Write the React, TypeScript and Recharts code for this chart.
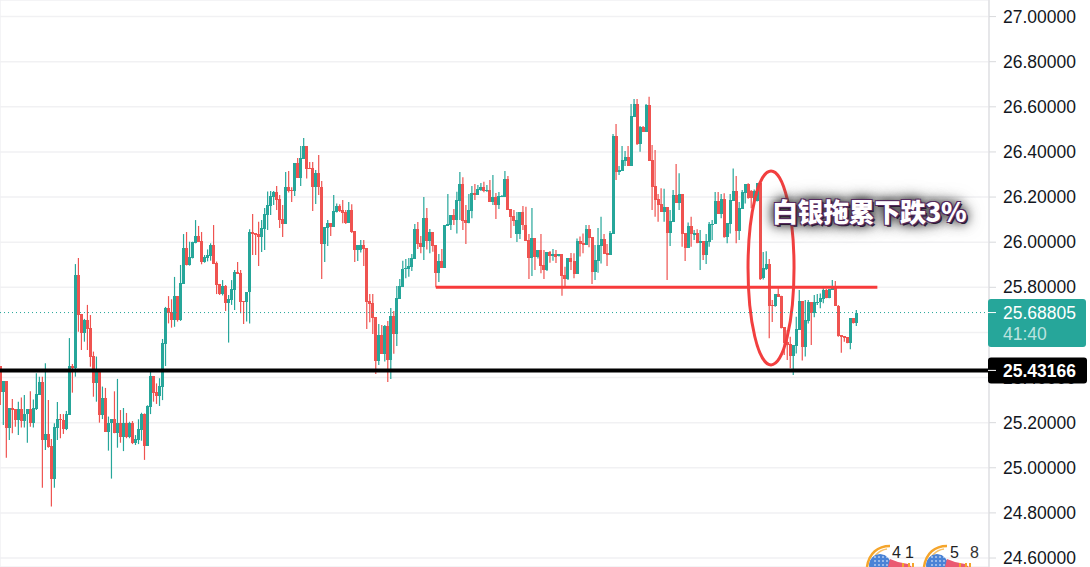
import React from 'react';
import { Bar, CartesianGrid, ComposedChart, ReferenceDot, ReferenceLine, XAxis, YAxis } from 'recharts';

const opens = [
  25.451, 25.337, 25.385, 25.178, 25.264, 25.259, 25.212, 25.259, 25.207, 25.237, 25.259, 25.199, 25.261, 25.323, 25.380, 25.123, 25.150, 25.097, 24.950, 25.175,
  25.216, 25.212, 25.172, 25.234, 25.451, 25.441, 25.855, 25.682, 25.597, 25.655, 25.620, 25.496, 25.377, 25.426, 25.234, 25.309, 25.159, 25.199, 25.216, 25.154,
  25.199, 25.136, 25.199, 25.136, 25.199, 25.110, 25.123, 25.167, 25.238, 25.097, 25.269, 25.407, 25.336, 25.318, 25.358, 25.549, 25.708, 25.691, 25.655, 25.761,
  25.655, 25.815, 25.974, 25.899, 25.930, 25.996, 26.027, 26.005, 25.912, 25.930, 25.939, 25.987, 25.908, 25.815, 25.770, 25.806, 25.730, 25.744, 25.788, 25.868,
  25.863, 25.739, 25.735, 25.779, 26.045, 26.041, 26.036, 26.023, 26.059, 26.121, 26.160, 26.200, 26.222, 26.191, 26.103, 26.081, 26.245, 26.231, 26.227, 26.351,
  26.285, 26.369, 26.426, 26.329, 26.329, 26.245, 26.307, 26.245, 25.992, 26.063, 26.085, 26.067, 26.134, 26.160, 26.141, 26.134, 26.085, 26.143, 26.050, 25.965,
  25.965, 25.988, 25.974, 25.739, 25.730, 25.668, 25.473, 25.589, 25.505, 25.629, 25.478, 25.673, 25.593, 25.748, 25.801, 25.880, 25.881, 25.890, 25.926, 26.059,
  25.996, 25.979, 26.107, 26.005, 26.045, 25.988, 25.863, 25.917, 25.886, 26.072, 26.076, 26.121, 26.098, 26.183, 26.258, 26.098, 26.085, 26.138, 26.218, 26.209,
  26.231, 26.245, 26.225, 26.231, 26.178, 26.200, 26.165, 26.200, 26.200, 26.280, 26.147, 26.116, 26.036, 26.036, 26.134, 26.076, 26.010, 25.931, 26.019, 25.934,
  25.965, 25.899, 25.877, 25.956, 25.939, 25.948, 25.939, 25.948, 25.855, 25.837, 25.930, 25.917, 25.859, 26.005, 25.996, 25.988, 26.058, 26.023, 25.868, 25.917,
  25.983, 26.014, 25.952, 25.943, 26.036, 26.471, 26.311, 26.316, 26.360, 26.378, 26.338, 26.555, 26.613, 26.435, 26.511, 26.488, 26.608, 26.364, 26.249, 26.191,
  26.169, 26.134, 26.156, 26.041, 26.090, 26.209, 26.174, 26.214, 26.041, 25.974, 26.072, 26.032, 26.041, 25.996, 26.005, 25.943, 26.001, 26.076, 26.081, 26.183,
  26.125, 26.191, 26.023, 26.081, 26.183, 26.227, 26.050, 26.147, 26.218, 26.258, 26.227, 26.183, 26.183, 26.262, 25.841, 25.881, 25.903, 25.722, 25.717, 25.770,
  25.762, 25.624, 25.556, 25.549, 25.496, 25.540, 25.611, 25.739, 25.535, 25.651, 25.735, 25.686, 25.729, 25.733, 25.748, 25.788, 25.753, 25.788, 25.797, 25.717,
  25.589, 25.584, 25.578, 25.553, 25.664, 25.640,
];

const highs = [
  25.451, 25.385, 25.385, 25.264, 25.305, 25.259, 25.293, 25.311, 25.323, 25.259, 25.339, 25.303, 25.419, 25.404, 25.404, 25.463, 25.300, 25.128, 25.197, 25.292,
  25.238, 25.238, 25.252, 25.575, 25.460, 25.903, 25.930, 25.682, 25.660, 25.722, 25.677, 25.515, 25.493, 25.426, 25.360, 25.354, 25.227, 25.216, 25.339, 25.394,
  25.256, 25.265, 25.243, 25.204, 25.207, 25.145, 25.215, 25.244, 25.241, 25.277, 25.426, 25.407, 25.374, 25.397, 25.571, 25.713, 25.761, 25.747, 25.846, 25.761,
  25.899, 26.036, 26.045, 26.002, 26.002, 26.098, 26.072, 26.045, 25.943, 25.968, 25.995, 26.076, 25.914, 25.815, 25.832, 25.810, 25.766, 25.832, 25.877, 25.912,
  25.877, 25.739, 25.779, 26.057, 26.125, 26.041, 26.091, 26.098, 26.152, 26.225, 26.227, 26.227, 26.249, 26.209, 26.165, 26.311, 26.316, 26.243, 26.351, 26.373,
  26.426, 26.462, 26.426, 26.355, 26.355, 26.320, 26.386, 26.271, 26.067, 26.098, 26.085, 26.209, 26.172, 26.168, 26.187, 26.143, 26.178, 26.168, 26.050, 25.988,
  26.010, 26.010, 25.974, 25.770, 25.770, 25.668, 25.637, 25.633, 25.633, 25.651, 25.708, 25.695, 25.806, 25.837, 25.918, 25.926, 25.930, 25.948, 26.081, 26.090,
  26.027, 26.200, 26.152, 26.058, 26.045, 25.988, 25.948, 25.970, 26.076, 26.214, 26.121, 26.147, 26.224, 26.311, 26.288, 26.165, 26.214, 26.249, 26.258, 26.254,
  26.262, 26.268, 26.254, 26.276, 26.298, 26.218, 26.222, 26.209, 26.316, 26.293, 26.147, 26.143, 26.134, 26.134, 26.160, 26.157, 26.036, 26.152, 26.019, 25.965,
  26.036, 25.965, 25.956, 25.961, 25.970, 25.965, 25.948, 25.948, 25.891, 25.930, 25.952, 25.951, 26.016, 26.025, 26.039, 26.076, 26.076, 26.023, 25.988, 26.063,
  26.113, 26.036, 25.992, 26.050, 26.480, 26.524, 26.338, 26.426, 26.404, 26.426, 26.613, 26.635, 26.635, 26.515, 26.515, 26.613, 26.645, 26.431, 26.409, 26.214,
  26.239, 26.237, 26.156, 26.143, 26.231, 26.347, 26.305, 26.214, 26.041, 26.087, 26.113, 26.054, 26.057, 26.054, 26.005, 26.036, 26.090, 26.098, 26.222, 26.222,
  26.214, 26.217, 26.085, 26.214, 26.327, 26.293, 26.178, 26.231, 26.258, 26.261, 26.231, 26.234, 26.262, 26.262, 25.956, 25.960, 25.925, 25.744, 25.770, 25.796,
  25.762, 25.624, 25.611, 25.581, 25.544, 25.670, 25.788, 25.739, 25.744, 25.744, 25.735, 25.766, 25.770, 25.773, 25.796, 25.793, 25.793, 25.832, 25.828, 25.722,
  25.589, 25.584, 25.578, 25.664, 25.664, 25.699,
];

const lows = [
  25.278, 25.190, 25.045, 25.123, 25.153, 25.182, 25.145, 25.179, 25.179, 25.111, 25.182, 25.179, 25.256, 25.323, 24.912, 25.079, 25.089, 24.828, 24.912, 25.123,
  25.131, 25.150, 25.167, 25.234, 25.333, 25.404, 25.603, 25.522, 25.559, 25.522, 25.448, 25.315, 25.293, 25.200, 25.216, 25.159, 25.076, 24.952, 25.153, 25.089,
  25.111, 25.074, 25.131, 25.131, 25.105, 25.101, 25.105, 25.120, 25.035, 25.097, 25.238, 25.293, 25.283, 25.274, 25.300, 25.451, 25.640, 25.621, 25.625, 25.648,
  25.651, 25.815, 25.897, 25.896, 25.928, 25.995, 26.001, 25.902, 25.909, 25.915, 25.918, 25.903, 25.770, 25.766, 25.764, 25.695, 25.555, 25.722, 25.699, 25.859,
  25.685, 25.637, 25.648, 25.640, 25.943, 25.943, 25.894, 25.957, 25.965, 26.054, 26.121, 26.165, 26.143, 26.063, 26.023, 26.081, 26.220, 26.178, 26.205, 26.285,
  26.249, 26.369, 26.282, 26.324, 26.138, 26.169, 26.209, 25.837, 25.912, 25.983, 26.027, 26.067, 26.132, 26.134, 26.084, 26.081, 26.085, 26.041, 25.912, 25.917,
  25.954, 25.894, 25.615, 25.645, 25.593, 25.416, 25.456, 25.505, 25.471, 25.380, 25.394, 25.505, 25.540, 25.748, 25.801, 25.840, 25.847, 25.872, 25.926, 25.970,
  25.951, 25.921, 25.968, 25.951, 25.958, 25.800, 25.824, 25.886, 25.886, 26.072, 26.054, 26.076, 26.039, 26.098, 26.054, 25.992, 26.084, 26.106, 26.187, 26.209,
  26.227, 26.221, 26.222, 26.178, 26.165, 26.103, 26.147, 26.200, 26.200, 26.143, 26.019, 26.072, 26.001, 26.014, 26.054, 26.005, 25.837, 25.850, 25.877, 25.928,
  25.862, 25.837, 25.872, 25.909, 25.918, 25.908, 25.936, 25.762, 25.806, 25.832, 25.877, 25.840, 25.859, 25.936, 25.951, 25.988, 25.977, 25.815, 25.832, 25.865,
  25.906, 25.948, 25.894, 25.943, 26.036, 26.276, 26.298, 26.316, 26.338, 26.338, 26.338, 26.555, 26.431, 26.401, 26.488, 26.488, 26.361, 26.143, 26.113, 26.091,
  26.134, 26.091, 25.832, 25.983, 26.090, 26.174, 26.143, 25.980, 25.917, 25.974, 25.980, 26.010, 25.995, 25.877, 25.921, 25.903, 25.980, 26.010, 26.081, 26.125,
  26.106, 26.020, 25.995, 26.039, 26.183, 25.995, 26.010, 26.147, 26.172, 26.193, 26.150, 26.183, 26.180, 25.832, 25.835, 25.877, 25.574, 25.646, 25.714, 25.759,
  25.617, 25.500, 25.478, 25.441, 25.411, 25.507, 25.611, 25.475, 25.493, 25.640, 25.544, 25.667, 25.722, 25.707, 25.729, 25.751, 25.751, 25.788, 25.717, 25.581,
  25.510, 25.559, 25.552, 25.525, 25.640, 25.629,
];

const closes = [
  25.337, 25.385, 25.178, 25.264, 25.256, 25.212, 25.259, 25.207, 25.237, 25.259, 25.199, 25.264, 25.327, 25.380, 25.123, 25.150, 25.094, 24.950, 25.179, 25.216,
  25.212, 25.172, 25.237, 25.451, 25.441, 25.855, 25.677, 25.597, 25.655, 25.615, 25.491, 25.377, 25.426, 25.234, 25.309, 25.159, 25.199, 25.216, 25.154, 25.199,
  25.136, 25.199, 25.136, 25.199, 25.110, 25.128, 25.172, 25.238, 25.097, 25.274, 25.407, 25.332, 25.318, 25.363, 25.553, 25.708, 25.686, 25.655, 25.761, 25.655,
  25.819, 25.974, 25.899, 25.934, 26.001, 26.027, 26.001, 25.912, 25.934, 25.943, 25.987, 25.903, 25.810, 25.770, 25.806, 25.730, 25.748, 25.792, 25.868, 25.859,
  25.735, 25.735, 25.779, 26.047, 26.036, 26.032, 26.023, 26.063, 26.125, 26.165, 26.205, 26.222, 26.187, 26.098, 26.081, 26.245, 26.227, 26.227, 26.351, 26.285,
  26.373, 26.426, 26.324, 26.324, 26.245, 26.307, 26.243, 25.992, 26.067, 26.085, 26.067, 26.138, 26.160, 26.138, 26.129, 26.085, 26.143, 26.045, 25.965, 25.988,
  25.988, 25.970, 25.735, 25.726, 25.664, 25.473, 25.589, 25.505, 25.629, 25.478, 25.673, 25.593, 25.753, 25.806, 25.881, 25.886, 25.894, 25.930, 26.059, 25.992,
  25.979, 26.107, 26.005, 26.045, 25.983, 25.863, 25.917, 25.886, 26.076, 26.081, 26.121, 26.098, 26.187, 26.258, 26.094, 26.085, 26.143, 26.218, 26.209, 26.236,
  26.245, 26.227, 26.231, 26.178, 26.200, 26.165, 26.205, 26.205, 26.280, 26.143, 26.112, 26.094, 26.098, 26.134, 26.076, 26.005, 25.931, 26.019, 25.934, 25.965,
  25.894, 25.877, 25.956, 25.939, 25.948, 25.934, 25.948, 25.850, 25.837, 25.930, 25.912, 25.859, 26.005, 25.992, 25.988, 26.058, 26.019, 25.868, 25.921, 25.988,
  26.014, 25.948, 25.943, 26.041, 26.471, 26.311, 26.320, 26.364, 26.378, 26.338, 26.559, 26.613, 26.435, 26.511, 26.488, 26.608, 26.361, 26.245, 26.187, 26.165,
  26.134, 26.156, 26.041, 26.094, 26.209, 26.174, 26.214, 26.036, 25.974, 26.072, 26.036, 26.041, 25.996, 26.005, 25.943, 26.005, 26.081, 26.081, 26.183, 26.125,
  26.191, 26.023, 26.085, 26.187, 26.227, 26.050, 26.152, 26.222, 26.258, 26.196, 26.196, 26.227, 26.262, 25.838, 25.886, 25.903, 25.717, 25.717, 25.770, 25.759,
  25.620, 25.552, 25.544, 25.496, 25.544, 25.615, 25.739, 25.535, 25.655, 25.735, 25.686, 25.735, 25.735, 25.753, 25.788, 25.751, 25.793, 25.797, 25.717, 25.584,
  25.581, 25.574, 25.553, 25.664, 25.640, 25.688,
];

const priceTicks = [24.6, 24.8, 25.0, 25.2, 25.4, 25.6, 25.8, 26.0, 26.2, 26.4, 26.6, 26.8, 27.0];
const timeTicks = [23, 63, 138, 179, 253, 294];
const lastPrice = 25.68805;
const supportPrice = 25.43166;
const resistancePrice = 25.8;
const countdown = '41:40';
const annotation = '白银拖累下跌3%';

const UP = '#26a69a';
const DOWN = '#ef5350';
const FONT = '"Liberation Sans", sans-serif';

const candles = opens.map((open, i) => ({ index: i, open, high: highs[i], low: lows[i], close: closes[i] }));

const Candle = (props: any) => {
  const { x, y, width, height, payload } = props;
  const { open, high, low, close } = payload;
  const perUnit = height / (high - low || 1);
  const color = close >= open ? UP : DOWN;
  const top = y + (high - Math.max(open, close)) * perUnit;
  const bodyH = Math.max(Math.abs(close - open) * perUnit, 1);
  const mid = x + width / 2;
  return (
    <g>
      <line x1={mid} x2={mid} y1={y} y2={y + height} stroke={color} strokeWidth={1.2} />
      <rect x={x} y={top} width={width} height={bodyH} fill={color} shapeRendering="crispEdges" />
    </g>
  );
};

const SupportLine = (props: any) => {
  const { x1, x2, y1 } = props;
  return (
    <g>
      <line x1={x1} x2={x2} y1={y1} y2={y1} stroke="#000" strokeWidth={4} />
      <rect x={988} y={y1 - 13} width={99} height={26} rx={3} fill="#000" />
      <line x1={988} x2={996} y1={y1} y2={y1} stroke="#fff" />
      <text x={1003} y={y1 + 6.5} fill="#fff" fontSize={17.5} fontFamily={FONT} fontWeight={700}>{supportPrice.toFixed(5)}</text>
    </g>
  );
};

const LastPriceLine = (props: any) => {
  const { x1, x2, y1 } = props;
  return (
    <g>
      <line x1={x1} x2={x2} y1={y1} y2={y1} stroke={UP} strokeWidth={1} strokeDasharray="1 3" />
      <rect x={988} y={y1 - 13.5} width={98} height={48} rx={3} fill={UP} />
      <line x1={988} x2={996} y1={y1} y2={y1} stroke="#fff" />
      <text x={1003} y={y1 + 6.5} fill="#fff" fontSize={17.5} fontFamily={FONT}>{lastPrice.toFixed(5)}</text>
      <text x={1003} y={y1 + 27.5} fill="#fff" fillOpacity={0.7} fontSize={17.5} fontFamily={FONT}>{countdown}</text>
    </g>
  );
};

const Ring = (props: any) => (
  <ellipse cx={props.cx} cy={props.cy} rx={23} ry={97} fill="none" stroke="#f23f3f" strokeWidth={3} />
);

// hides the axis labels that sit behind the two price tags
const PriceTick = (props: any) => {
  const { x, y, payload } = props;
  if (payload.value === 25.6) return <g />;
  return (
    <text x={x} y={y + 6} fill="#131722" fontSize={17.5} fontFamily={FONT} textAnchor="start">
      {payload.value.toFixed(5)}
    </text>
  );
};

const EventIcon = ({ x }: { x: number }) => (
  <g transform={`translate(${x} 0)`}>
    <clipPath id={`flag${x}`}>
      <circle cx={14} cy={565} r={11} />
    </clipPath>
    <path d="M1 567 C3 553 12 546 24 546" fill="none" stroke="#f5a52b" strokeWidth={2.5} />
    <path d="M4 567 C6 557 13 550 21 549" fill="none" stroke="#f7c26b" strokeWidth={1.5} />
    <circle cx={14} cy={565} r={11} fill="#4a83d6" clipPath={`url(#flag${x})`} />
    {[557, 561, 565].map(cy => [9, 13, 17, 21].map(cx => <circle key={`${cx}-${cy}`} cx={cx} cy={cy} r={0.8} fill="#fff" />))}
    <path d="M22 567 L24 559 L32 562 L42 564 L46 567 Z" fill="#ea5a72" />
    <rect x={36} y={563} width={2} height={4} fill="#f5a52b" />
    <rect x={42} y={563} width={2} height={4} fill="#f5a52b" />
    <rect x={46} y={563} width={2} height={4} fill="#f5a52b" />
  </g>
);

export default function App() {
  return (
    <div style={{ position: 'absolute', left: 0, top: 0, width: 1090, height: 567, overflow: 'hidden', background: '#fff' }}>
      <ComposedChart width={1090} height={567} data={candles} margin={{ top: 0, right: 0, bottom: 0, left: 0 }}>
        <CartesianGrid stroke="#f1f1f3" strokeWidth={1.5} />
        <XAxis dataKey="index" type="number" domain={[-0.11, 329.17]} ticks={timeTicks} height={0} axisLine={false} tick={false} tickLine={false} allowDataOverflow />
        <YAxis
          orientation="right"
          width={101}
          domain={[24.5602, 27.0735]}
          ticks={priceTicks}
          allowDataOverflow
          interval={0}
          tickSize={7}
          tickMargin={7}
          stroke="#d8d9dc"
          tick={<PriceTick />}
        />
        <Bar dataKey={(d: any) => [d.low, d.high]} barSize={3} shape={<Candle />} isAnimationActive={false} />
        <ReferenceLine y={lastPrice} shape={<LastPriceLine />} zIndex={2000} />
        <ReferenceLine segment={[{ x: 145, y: resistancePrice }, { x: 292, y: resistancePrice }]} stroke="#f73b3b" strokeWidth={3} />
        <ReferenceDot x={256.6} y={25.886} shape={<Ring />} />
        <ReferenceLine y={supportPrice} shape={<SupportLine />} zIndex={2000} />
      </ComposedChart>
      <svg width={1090} height={567} style={{ position: 'absolute', left: 0, top: 0, pointerEvents: 'none' }}>
        <EventIcon x={866} />
        <EventIcon x={923} />
        <text x={892} y={558} fontSize={16} fontFamily={FONT} fill="#222">4</text>
        <text x={905} y={558} fontSize={16} fontFamily={FONT} fill="#222">1</text>
        <text x={950} y={558} fontSize={16} fontFamily={FONT} fill="#222">5</text>
        <text x={970} y={558} fontSize={16} fontFamily={FONT} fill="#333">8</text>
      </svg>
      <div
        style={{
          position: 'absolute',
          left: 772,
          top: 193,
          fontFamily: '"Noto Sans CJK SC", sans-serif',
          fontWeight: 900,
          fontSize: 26,
          lineHeight: '36px',
          letterSpacing: -0.4,
          color: '#fff',
          whiteSpace: 'nowrap',
          textShadow:
            '1px 1px 0 #552b5e, -1px -1px 0 #552b5e, 1px -1px 0 #552b5e, -1px 1px 0 #552b5e, 2px 2px 0 #2b1a30, 0 0 9px #222, 0 0 14px #333, 0 0 18px #777',
        }}
      >
        {annotation}
      </div>
    </div>
  );
}
